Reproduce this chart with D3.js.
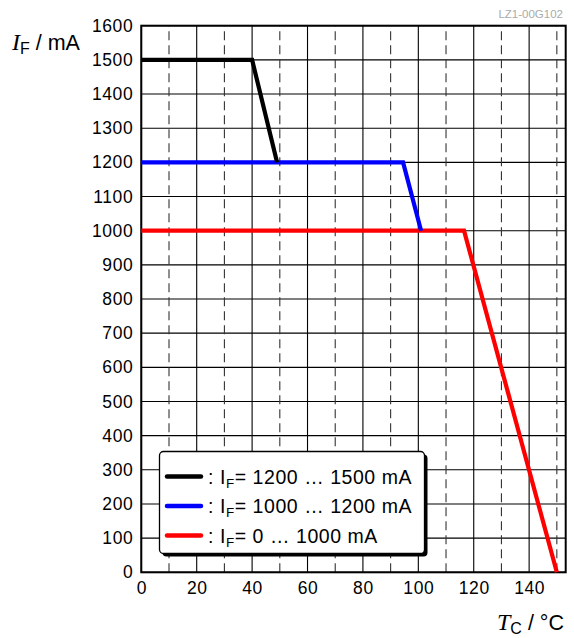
<!DOCTYPE html>
<html><head><meta charset="utf-8">
<script src="https://cdn.jsdelivr.net/npm/d3@7"></script>
<style>
html,body{margin:0;padding:0;background:#fff;}
svg{display:block;font-family:"Liberation Sans",Arial,Helvetica,sans-serif;}
</style></head>
<body><svg id="c" width="574" height="638"></svg>
<script>
// ---- data ----
const seriesNames = ["1200 … 1500 mA", "1000 … 1200 mA", "0 … 1000 mA"];
const seriesColors = ["#000000", "#0000ff", "#ff0000"];
const blackX = [0, 40, 49];      const blackY = [1500, 1500, 1200];
const blueX  = [0, 94.5, 101];   const blueY  = [1200, 1200, 1000];
const redX   = [0, 116.5, 150];  const redY   = [1000, 1000, 0];
const xTicks = [0, 20, 40, 60, 80, 100, 120, 140];
const xDashed = [10, 30, 50, 70, 90, 110, 130, 150];
const yTicks = [0,100,200,300,400,500,600,700,800,900,1000,1100,1200,1300,1400,1500,1600];

const svg = d3.select("#c");
const x = d3.scaleLinear().domain([0, 153.2]).range([141.3, 565.7]);
const y = d3.scaleLinear().domain([0, 1600]).range([572.3, 25.7]);
const [x0, x1] = x.range(); const [y0, y1] = y.range();

// grid
const g = svg.append("g");
g.selectAll(".hg").data(yTicks).join("line")
  .attr("x1", x0).attr("x2", x1).attr("y1", d => y(d)).attr("y2", d => y(d))
  .attr("stroke", "#000").attr("stroke-width", 1.1);
g.selectAll(".vg").data(xTicks).join("line")
  .attr("y1", y0).attr("y2", y1).attr("x1", d => x(d)).attr("x2", d => x(d))
  .attr("stroke", "#000").attr("stroke-width", 1.1);
g.selectAll(".vd").data(xDashed).join("line")
  .attr("y1", y0).attr("y2", y1).attr("x1", d => x(d)).attr("x2", d => x(d))
  .attr("stroke", "#333").attr("stroke-width", 1.1).attr("stroke-dasharray", "9,5");

// frame
svg.append("rect").attr("x", x0).attr("y", y1).attr("width", x1 - x0).attr("height", y0 - y1)
  .attr("fill", "none").attr("stroke", "#000").attr("stroke-width", 2);

// axes labels via d3 axes
const ax = svg.append("g").attr("transform", `translate(0,${y0})`)
  .call(d3.axisBottom(x).tickValues(xTicks).tickFormat(d3.format("d")).tickSize(0).tickPadding(9));
const ay = svg.append("g").attr("transform", `translate(${x0},0)`)
  .call(d3.axisLeft(y).tickValues(yTicks).tickFormat(d3.format("d")).tickSize(0).tickPadding(8));
[ax, ay].forEach(a => {
  a.select(".domain").remove();
  a.selectAll("text").attr("font-size", 17.5).attr("fill", "#000")
    .attr("letter-spacing", 0.6)
    .attr("font-family", "Liberation Sans, Arial, sans-serif");
});

// curves
const line = d3.line().x(d => x(d[0])).y(d => y(d[1]));
const curveData = [
  d3.zip(redX, redY), d3.zip(blueX, blueY), d3.zip(blackX, blackY)
];
const curveCols = [seriesColors[2], seriesColors[1], seriesColors[0]];
svg.selectAll(".curve").data(curveData).join("path")
  .attr("d", line).attr("fill", "none")
  .attr("stroke", (d, i) => curveCols[i]).attr("stroke-width", 4.2)
  .attr("stroke-linejoin", "miter");

// legend
const lg = svg.append("g");
lg.append("rect").attr("x", 162.5).attr("y", 454.5).attr("width", 265).attr("height", 102)
  .attr("rx", 4).attr("fill", "#000");
lg.append("rect").attr("x", 159.5).attr("y", 451.5).attr("width", 265).attr("height", 102)
  .attr("rx", 4).attr("fill", "#fff").attr("stroke", "#000").attr("stroke-width", 1.3);
const rowY = [476.5, 506, 535.5];
seriesNames.forEach((n, i) => {
  lg.append("line").attr("x1", 167).attr("x2", 201).attr("y1", rowY[i]).attr("y2", rowY[i])
    .attr("stroke", seriesColors[i]).attr("stroke-width", 4.5).attr("stroke-linecap", "round");
  const t = lg.append("text").attr("x", 208).attr("y", rowY[i] + 7)
    .attr("font-size", 19.5).attr("letter-spacing", 0.55).attr("fill", "#000");
  t.append("tspan").text(": I");
  t.append("tspan").attr("font-size", 13.5).attr("dy", 4).text("F");
  t.append("tspan").attr("dy", -4).text("= " + n);
});

// axis titles
const yt = svg.append("text").attr("x", 12).attr("y", 50).attr("font-size", 21.5).attr("fill", "#000");
yt.append("tspan").attr("font-family", "Liberation Serif, Times New Roman, serif")
  .attr("font-style", "italic").attr("font-size", 24).text("I");
yt.append("tspan").attr("font-size", 16).attr("dy", 4).text("F");
yt.append("tspan").attr("dy", -4).text(" / mA");

const xt = svg.append("text").attr("x", 497).attr("y", 630).attr("font-size", 21.5).attr("fill", "#000");
xt.append("tspan").attr("font-family", "Liberation Serif, Times New Roman, serif")
  .attr("font-style", "italic").attr("font-size", 24).text("T");
xt.append("tspan").attr("font-size", 16).attr("dy", 4).text("C");
xt.append("tspan").attr("dy", -4).text(" / °C");

svg.append("text").attr("x", 563).attr("y", 18).attr("text-anchor", "end")
  .attr("font-size", 11.5).attr("fill", "#aaa").text("LZ1-00G102");
</script></body></html>
